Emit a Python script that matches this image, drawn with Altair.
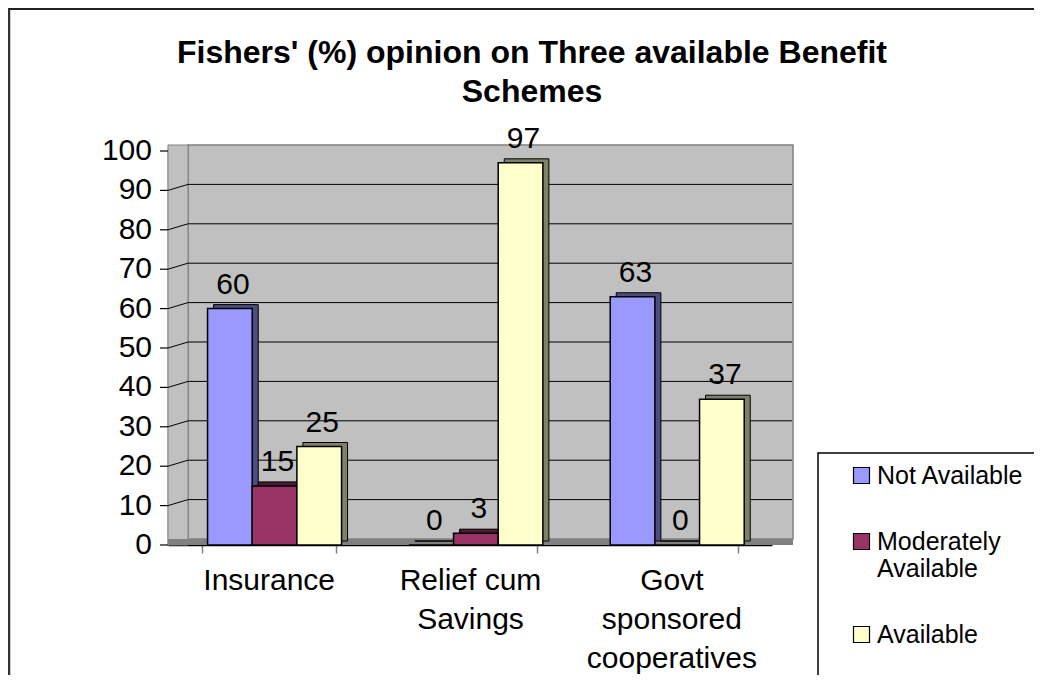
import json
import altair as alt
import pandas as pd

# ---------------- data ----------------
categories = ["Insurance", "Relief cum Savings", "Govt sponsored cooperatives"]
category_lines = [["Insurance"], ["Relief cum", "Savings"], ["Govt", "sponsored", "cooperatives"]]
series = ["Not Available", "Moderately Available", "Available"]
series_lines = [["Not Available"], ["Moderately", "Available"], ["Available"]]
not_available = [60, 0, 63]
moderately_available = [15, 3, 0]
available = [25, 97, 37]
y_ticks = [0, 10, 20, 30, 40, 50, 60, 70, 80, 90, 100]
title_lines = ["Fishers' (%) opinion on Three available Benefit", "Schemes"]

front_colors = ["#9999FF", "#993366", "#FFFFCC"]
side_colors = ["#4D4D80", "#4D1A33", "#808066"]

rows = []
for i, c in enumerate(categories):
    for s, vals in zip(series, [not_available, moderately_available, available]):
        rows.append({"category": c, "series": s, "value": vals[i]})
df = pd.DataFrame(rows)
grid_df = pd.DataFrame({"v": y_ticks[1:-1]})
tick_df = pd.DataFrame({"v": y_ticks})


def wrap_expr(names, lines):
    expr = ""
    for n, l in zip(names, lines):
        if len(l) > 1:
            expr += f"datum.label === {json.dumps(n)} ? {json.dumps(l)} : "
    return expr + "datum.label"


W, H = 604, 394
DX, DY = 20, 6
FONT = "Liberation Sans"
GROUP = 134  # width of a cluster of three bars (2/3 of a category step)
SUB = GROUP / 3
SHIFT = 6    # clusters sit a little right of the band centre (3-D depth)
TICK = 8

yscale = alt.Scale(domain=[0, 100], nice=False, zero=True)
xscale = alt.Scale(domain=categories, paddingInner=1 / 3, paddingOuter=1 / 6)

y_axis = alt.Axis(
    title=None, labels=False, ticks=False, grid=False,
    domainColor="#333333", domainWidth=1.5,
)
x_axis = alt.Axis(
    title=None, labelAngle=0, labelExpr=wrap_expr(categories, category_lines),
    labelFont=FONT, labelFontSize=30, labelColor="black", labelLineHeight=39,
    labelPadding=12, tickBand="extent", tickSize=TICK, tickColor="#808080",
    tickWidth=1.5, domainColor="black", domainWidth=1.5, labelLimit=400,
)


def band_scale(shift):
    return alt.Scale(domain=series, range=[shift, shift + GROUP], paddingInner=0, paddingOuter=0)


def point_scale(shift):
    # text marks use a point scale: centres of the three sub-bands
    return alt.Scale(domain=series, range=[shift + SUB / 2, shift + GROUP - SUB / 2], padding=0)


base = alt.Chart(df)
one = alt.Chart(pd.DataFrame({"k": [0]}))

# chart border (top and left edges visible in reference)
border_top = one.mark_rule(color="#222222", strokeWidth=2).encode(
    x=alt.value(-160), x2=alt.value(W + 280), y=alt.value(-142)
)
border_left = one.mark_rule(color="#333333", strokeWidth=2.5).encode(
    x=alt.value(-159), y=alt.value(-142), y2=alt.value(H + 160)
)

# back wall, left wall, floor
back_wall = one.mark_rect(fill="#C0C0C0", stroke="#808080", strokeWidth=1.5,
                          yOffset=-DY, y2Offset=-DY).encode(
    x=alt.value(DX), x2=alt.value(W + DX + 1),
    y=alt.Y(datum=100, type="quantitative", scale=yscale, axis=y_axis), y2=alt.datum(0)
)
left_wall = one.mark_rect(fill="#C0C0C0", stroke="#808080", strokeWidth=1,
                          yOffset=-DY).encode(
    x=alt.value(0), x2=alt.value(DX),
    y=alt.Y(datum=100, type="quantitative", scale=yscale, axis=y_axis), y2=alt.datum(0)
)
floor = one.mark_rect(fill="#808080", y2Offset=-DY).encode(
    x=alt.value(0), x2=alt.value(W + DX + 1),
    y=alt.Y(datum=0, type="quantitative", scale=yscale, axis=y_axis), y2=alt.datum(0)
)

grid_back = alt.Chart(grid_df).mark_rule(color="black", strokeWidth=1, yOffset=-DY).encode(
    x=alt.value(DX), x2=alt.value(W + DX),
    y=alt.Y("v:Q", scale=yscale, axis=y_axis)
)
grid_left = alt.Chart(grid_df).mark_rule(color="black", strokeWidth=1, y2Offset=-DY).encode(
    x=alt.value(0), x2=alt.value(DX),
    y=alt.Y("v:Q", scale=yscale, axis=y_axis), y2="v:Q"
)

# y-axis ticks and labels (every 10)
y_tick_marks = alt.Chart(tick_df).mark_rule(color="black", strokeWidth=1.2).encode(
    x=alt.value(-TICK), x2=alt.value(0),
    y=alt.Y("v:Q", scale=yscale, axis=y_axis)
)
y_tick_labels = alt.Chart(tick_df).mark_text(
    align="right", baseline="middle", fontSize=30, font=FONT, color="black"
).encode(
    x=alt.value(-TICK - 8),
    y=alt.Y("v:Q", scale=yscale, axis=y_axis),
    text="v:Q",
)

x_enc = alt.X("category:N", sort=categories, scale=xscale, axis=x_axis)
y_enc = alt.Y("value:Q", scale=yscale, axis=y_axis)

bars_side = base.mark_bar(stroke="black", strokeWidth=1, yOffset=-4, y2Offset=-4).encode(
    x=x_enc, xOffset=alt.XOffset("series:N", sort=series, scale=band_scale(SHIFT + 6)),
    y=y_enc,
    color=alt.Color("series:N", sort=series,
                    scale=alt.Scale(domain=series, range=side_colors), legend=None),
)
bars = base.mark_bar(stroke="black", strokeWidth=1.5).encode(
    x=x_enc, xOffset=alt.XOffset("series:N", sort=series, scale=band_scale(SHIFT)),
    y=y_enc,
    color=alt.Color(
        "series:N", sort=series, scale=alt.Scale(domain=series, range=front_colors),
        legend=alt.Legend(
            title=None, orient="none", legendX=681, legendY=312,
            labelFont=FONT, labelFontSize=25, labelColor="black",
            labelExpr=wrap_expr(series, series_lines), labelOffset=3,
            symbolType="square", symbolSize=256, symbolStrokeColor="black",
            symbolStrokeWidth=1.2, symbolOpacity=1, rowPadding=40, padding=0,
            labelLimit=300,
        ),
    ),
)
labels = base.mark_text(baseline="alphabetic", dy=-15, fontSize=30,
                        font=FONT, color="black").encode(
    x=x_enc,
    xOffset=alt.XOffset("series:N", sort=series, scale=point_scale(SHIFT + 3)),
    y=y_enc, text="value:Q",
)

legend_box = one.mark_rect(fill="white", stroke="black", strokeWidth=1.5).encode(
    x=alt.value(650), x2=alt.value(W + 400), y=alt.value(302), y2=alt.value(H + 200)
)

chart = alt.layer(
    border_top, border_left, legend_box, back_wall, left_wall, floor,
    grid_back, grid_left, y_tick_marks, y_tick_labels, bars_side, bars, labels,
).resolve_scale(color="independent", xOffset="independent").properties(
    width=W, height=H,
    padding={"left": 160, "top": 143, "right": 262, "bottom": 130},
    autosize=alt.AutoSizeParams(type="none"),
    title=alt.TitleParams(
        text=title_lines, font=FONT, fontSize=32, fontWeight="bold", color="black",
        lineHeight=39, anchor="middle", frame="group", dx=62, offset=-101,
    ),
).configure_view(stroke=None).configure(background="white")

chart.save("out.html", embed_options={"renderer": "svg", "actions": False})
